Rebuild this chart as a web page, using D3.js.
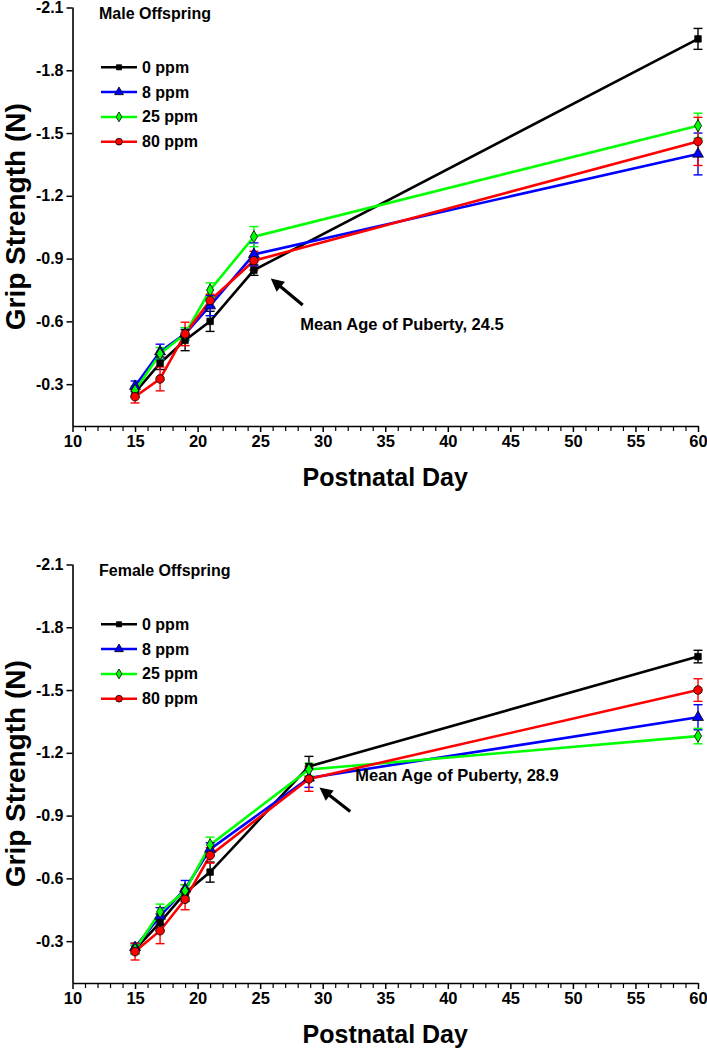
<!DOCTYPE html>
<html>
<head>
<meta charset="utf-8">
<script src="https://cdn.jsdelivr.net/npm/d3@7"></script>
<style>
  html, body { margin: 0; padding: 0; background: #fff; }
  svg { display: block; }
  text { font-family: "Liberation Sans", Arial, sans-serif; font-weight: bold; fill: #000; }
</style>
</head>
<body>
<svg id="chart" width="707" height="1050"></svg>
<script>
// ---------- DATA ----------
const seriesNames = ["0 ppm", "8 ppm", "25 ppm", "80 ppm"];
const seriesColors = ["#000000", "#0000ff", "#00ff00", "#ff0000"];

const maleDays = [15, 17, 19, 21, 24.5, 60];
const male0 = [-0.26, -0.40, -0.51, -0.60, -0.845, -1.95];
const male8 = [-0.29, -0.455, -0.54, -0.675, -0.92, -1.40];
const male25 = [-0.27, -0.445, -0.54, -0.75, -1.005, -1.535];
const male80 = [-0.24, -0.325, -0.54, -0.70, -0.89, -1.46];
const male0Err = [0.02, 0.03, 0.05, 0.048, 0.025, 0.05];
const male8Err = [0.025, 0.036, 0.03, 0.048, 0.055, 0.10];
const male25Err = [0.02, 0.03, 0.03, 0.034, 0.048, 0.06];
const male80Err = [0.03, 0.057, 0.056, 0.03, 0.045, 0.115];

const femaleDays = [15, 17, 19, 21, 28.9, 60];
const female0 = [-0.26, -0.39, -0.53, -0.63, -1.135, -1.66];
const female8 = [-0.27, -0.42, -0.55, -0.74, -1.08, -1.37];
const female25 = [-0.26, -0.44, -0.54, -0.76, -1.12, -1.28];
const female80 = [-0.25, -0.35, -0.50, -0.71, -1.075, -1.50];
const female0Err = [0.02, 0.04, 0.04, 0.048, 0.048, 0.03];
const female8Err = [0.02, 0.04, 0.04, 0.03, 0.045, 0.06];
const female25Err = [0.02, 0.037, 0.03, 0.037, 0.03, 0.037];
const female80Err = [0.04, 0.062, 0.05, 0.037, 0.059, 0.054];

const xMajorTicks = [10, 15, 20, 25, 30, 35, 40, 45, 50, 55, 60];
const yTicks = [-2.1, -1.8, -1.5, -1.2, -0.9, -0.6, -0.3];
const xTitle = "Postnatal Day";
const yTitle = "Grip Strength (N)";

// annotation anchors in data units [day, value]
const maleArrow = { tip: [25.85, -0.805], tail: [28.4, -0.678], text: [28.2, -0.587], label: "Mean Age of Puberty, 24.5" };
const femaleArrow = { tip: [29.74, -1.034], tail: [32.2, -0.92], text: [32.6, -1.093], label: "Mean Age of Puberty, 28.9" };

const panels = [
  { title: "Male Offspring", offset: 0, days: maleDays,
    values: [male0, male8, male25, male80], errs: [male0Err, male8Err, male25Err, male80Err], arrow: maleArrow },
  { title: "Female Offspring", offset: 557, days: femaleDays,
    values: [female0, female8, female25, female80], errs: [female0Err, female8Err, female25Err, female80Err], arrow: femaleArrow }
];

// ---------- DRAW ----------
const svg = d3.select("#chart");
const symbolTypes = [d3.symbolSquare, d3.symbolTriangle, d3.symbolDiamond, d3.symbolCircle];
const symbolSizes = [42, 52, 44, 58];
const legendSizes = [26, 34, 28, 36];

const x = d3.scaleLinear().domain([10, 60]).range([72.5, 698]);
const y = d3.scaleLinear().domain([-0.1, -2.1]).range([426, 7.5]);

panels.forEach(p => {
  const g = svg.append("g").attr("transform", `translate(0,${p.offset})`);

  // X axis major
  const xAxis = g.append("g").attr("transform", `translate(0,${y(-0.1)})`)
    .call(d3.axisBottom(x).tickValues(xMajorTicks).tickSize(6).tickSizeOuter(0).tickPadding(3).tickFormat(d3.format("d")));
  xAxis.select(".domain").attr("stroke", "#000").attr("stroke-width", 1.6);
  xAxis.selectAll(".tick line").attr("stroke", "#000").attr("stroke-width", 1.5);
  xAxis.selectAll(".tick text").attr("font-size", 16.5).attr("font-family", "Liberation Sans, Arial, sans-serif");

  // X axis minor
  const minor = d3.range(10, 61).filter(d => d % 5 !== 0);
  const xMinor = g.append("g").attr("transform", `translate(0,${y(-0.1)})`)
    .call(d3.axisBottom(x).tickValues(minor).tickSize(5).tickFormat(""));
  xMinor.select(".domain").remove();
  xMinor.selectAll(".tick line").attr("stroke", "#000").attr("stroke-width", 1.2);

  // Y axis
  const yAxis = g.append("g").attr("transform", `translate(${x(10)},0)`)
    .call(d3.axisLeft(y).tickValues(yTicks).tickSize(6).tickSizeOuter(0).tickPadding(3).tickFormat(d => d.toFixed(1)));
  yAxis.select(".domain").attr("stroke", "#000").attr("stroke-width", 1.6)
    .attr("d", `M0.5,${y(-2.1)}V${y(-0.1)}`);
  yAxis.selectAll(".tick line").attr("stroke", "#000").attr("stroke-width", 1.5);
  yAxis.selectAll(".tick text").attr("font-size", 16).attr("font-family", "Liberation Sans, Arial, sans-serif");

  // titles
  g.append("text").attr("x", (x(10) + x(60)) / 2).attr("y", 486)
    .attr("text-anchor", "middle").attr("font-size", 25).text(xTitle);
  g.append("text").attr("transform", `translate(25,${(y(-2.1) + y(-0.1)) / 2}) rotate(-90)`)
    .attr("text-anchor", "middle").attr("font-size", 28).text(yTitle);
  g.append("text").attr("x", 99).attr("y", 13.5).attr("dominant-baseline", "central")
    .attr("font-size", 16).text(p.title);

  // legend
  seriesNames.forEach((name, i) => {
    const ly = 67.3 + i * 24.8;
    g.append("line").attr("x1", 101).attr("x2", 137).attr("y1", ly).attr("y2", ly)
      .attr("stroke", seriesColors[i]).attr("stroke-width", 2.5);
    g.append("path").attr("transform", `translate(119,${ly})`)
      .attr("d", d3.symbol().type(symbolTypes[i]).size(legendSizes[i])())
      .attr("fill", seriesColors[i]).attr("stroke", "#000").attr("stroke-width", 0.8);
    g.append("text").attr("x", 142).attr("y", ly).attr("dominant-baseline", "central")
      .attr("font-size", 16).text(name);
  });

  // series
  const line = d3.line().x(d => x(d[0])).y(d => y(d[1]));
  p.values.forEach((vals, i) => {
    const pts = p.days.map((d, j) => [d, vals[j], p.errs[i][j]]);
    g.append("path").datum(pts).attr("d", line).attr("fill", "none")
      .attr("stroke", seriesColors[i]).attr("stroke-width", 2.6);
  });
  p.values.forEach((vals, i) => {
    const pts = p.days.map((d, j) => [d, vals[j], p.errs[i][j]]);
    const eb = g.append("g");
    pts.forEach(pt => {
      const cx = x(pt[0]), y1 = y(pt[1] - pt[2]), y2 = y(pt[1] + pt[2]);
      eb.append("line").attr("x1", cx).attr("x2", cx).attr("y1", y1).attr("y2", y2)
        .attr("stroke", seriesColors[i]).attr("stroke-width", 1.4);
      [y1, y2].forEach(yy => eb.append("line").attr("x1", cx - 4.5).attr("x2", cx + 4.5)
        .attr("y1", yy).attr("y2", yy).attr("stroke", seriesColors[i]).attr("stroke-width", 1.4));
    });
  });
  p.values.forEach((vals, i) => {
    const pts = p.days.map((d, j) => [d, vals[j]]);
    g.selectAll(null).data(pts).enter().append("path")
      .attr("transform", d => `translate(${x(d[0])},${y(d[1])})`)
      .attr("d", d3.symbol().type(symbolTypes[i]).size(symbolSizes[i])())
      .attr("fill", seriesColors[i]).attr("stroke", "#000").attr("stroke-width", 0.8);
  });

  // annotation arrow
  const a = p.arrow;
  const tx = x(a.tip[0]), ty = y(a.tip[1]), sx = x(a.tail[0]), sy = y(a.tail[1]);
  const len = Math.hypot(tx - sx, ty - sy), ux = (tx - sx) / len, uy = (ty - sy) / len;
  const hl = 13, hw = 6.5;
  const bx = tx - ux * hl, by = ty - uy * hl;
  g.append("line").attr("x1", sx).attr("y1", sy).attr("x2", bx + ux * 2).attr("y2", by + uy * 2)
    .attr("stroke", "#000").attr("stroke-width", 3.2);
  g.append("path").attr("d", `M${tx},${ty}L${bx - uy * hw},${by + ux * hw}L${bx + uy * hw},${by - ux * hw}Z`)
    .attr("fill", "#000");
  g.append("text").attr("x", x(a.text[0])).attr("y", y(a.text[1])).attr("dominant-baseline", "central")
    .attr("font-size", 16.5).text(a.label);
});
</script>
</body>
</html>
